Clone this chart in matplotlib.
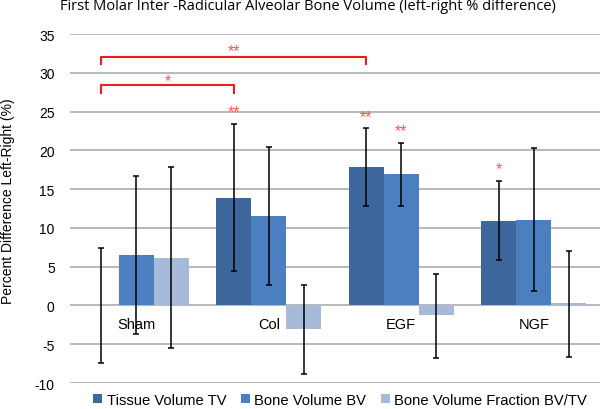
import matplotlib.pyplot as plt
import numpy as np

plt.rcParams['font.family'] = ['Liberation Sans', 'DejaVu Sans']
plt.rcParams['axes.unicode_minus'] = False

# data
groups = ['Sham', 'Col', 'EGF', 'NGF']
series = ['Tissue Volume TV', 'Bone Volume BV', 'Bone Volume Fraction BV/TV']
tv = [0.0, 13.9, 17.85, 10.9]
bv = [6.45, 11.5, 16.9, 11.05]
bvtv = [6.15, -3.1, -1.25, 0.3]
tv_lo = [-7.45, 4.5, 12.8, 5.85]
tv_hi = [7.45, 23.4, 22.9, 16.0]
bv_lo = [-3.7, 2.6, 12.8, 1.85]
bv_hi = [16.7, 20.4, 21.0, 20.3]
bvtv_lo = [-5.5, -8.9, -6.75, -6.65]
bvtv_hi = [17.8, 2.7, 4.1, 7.0]
colors = ['#3E689D', '#4B7FBF', '#A8BADA']

fig = plt.figure(figsize=(6, 4.1), dpi=100)
ax = fig.add_axes([0.1167, 0.0634, 0.8833, 0.8512])

x = np.arange(len(groups))
w = 0.264
vals = [tv, bv, bvtv]
los = [tv_lo, bv_lo, bvtv_lo]
his = [tv_hi, bv_hi, bvtv_hi]
for i in range(3):
    pos = x + (i - 1) * w
    v = np.array(vals[i])
    err = [v - np.array(los[i]), np.array(his[i]) - v]
    ax.bar(pos, v, w, color=colors[i], label=series[i], zorder=2)
    ax.errorbar(pos, v, yerr=err, fmt='none', ecolor='black', elinewidth=1.1,
                capsize=2.5, capthick=1.1, zorder=3)

ax.set_xlim(-0.5, 3.5)
ax.set_ylim(-10, 35)
ax.set_yticks(np.arange(-10, 36, 5))
ax.set_xticks([])
ax.yaxis.grid(True, color='#A6A6A6', linewidth=1.1, zorder=0)
ax.set_axisbelow(True)
for s in ax.spines.values():
    s.set_visible(False)
ax.tick_params(axis='y', length=0, pad=11, labelsize=10)

# category labels sit just below zero
for xi, g in zip(x, groups):
    ax.text(xi, -2.45, g, ha='center', va='center', fontsize=10.5)

# significance brackets
red = '#F01818'
star = '#FF5555'
ax.plot([x[0] - w, x[0] - w, x[1] - w, x[1] - w], [27.45, 28.4, 28.4, 27.45], color=red, lw=1.5, zorder=4)
ax.plot([x[0] - w, x[0] - w, x[2] - w, x[2] - w], [31.1, 32.0, 32.0, 31.1], color=red, lw=1.5, zorder=4)
ax.text((x[0] + x[1]) / 2 - w, 29.0, '*', color=star, ha='center', va='center', fontsize=11.5)
ax.text(x[1] - w, 32.8, '**', color=star, ha='center', va='center', fontsize=11.5)
ax.text(x[1] - w, 25.0, '**', color=star, ha='center', va='center', fontsize=11.5)
ax.text(x[2] - w, 24.4, '**', color=star, ha='center', va='center', fontsize=11.5)
ax.text(x[2], 22.5, '**', color=star, ha='center', va='center', fontsize=11.5)
ax.text(x[3] - w, 17.6, '*', color=star, ha='center', va='center', fontsize=11.5)

fig.text(0.1, 0.983, 'First Molar Inter -Radicular Alveolar Bone Volume (left-right % difference)',
         ha='left', va='center', fontsize=10.5, family=['Open Sans', 'DejaVu Sans'])
fig.text(0.013, 0.51, 'Percent Difference Left-Right (%)', rotation=90,
         ha='center', va='center', fontsize=10)

fig.legend(loc='center', bbox_to_anchor=(0.567, 0.022), ncol=3, frameon=False,
           fontsize=10.6, handlelength=0.6, handleheight=0.6, handletextpad=0.3,
           columnspacing=1.0, borderpad=0)

fig.savefig('out.png', dpi=100)
